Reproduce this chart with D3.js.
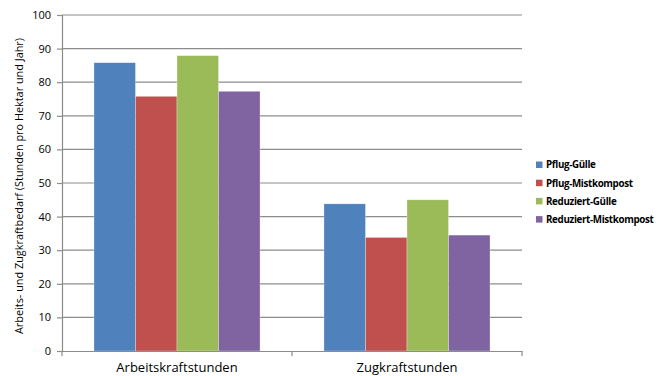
<!DOCTYPE html>
<html>
<head>
<meta charset="utf-8">
<script src="https://cdn.jsdelivr.net/npm/d3@7/dist/d3.min.js"></script>
<style>
  html, body { margin: 0; padding: 0; background: #fff; }
  svg { display: block; font-family: "Open Sans", "Noto Sans", sans-serif; }
</style>
</head>
<body>
<svg id="chart" width="666" height="376"></svg>
<script>
const categories = ["Arbeitskraftstunden", "Zugkraftstunden"];
const seriesNames = ["Pflug-Gülle", "Pflug-Mistkompost", "Reduziert-Gülle", "Reduziert-Mistkompost"];
const seriesColors = ["#4F81BD", "#C0504D", "#9BBB59", "#8064A2"];
const pflugGuelle = [85.8, 43.8];
const pflugMistkompost = [75.8, 33.8];
const reduziertGuelle = [87.9, 45.0];
const reduziertMistkompost = [77.3, 34.5];
const yTicks = [0, 10, 20, 30, 40, 50, 60, 70, 80, 90, 100];
const yLabel = "Arbeits- und Zugkraftbedarf (Stunden pro Hektar  und Jahr)";

const seriesValues = [pflugGuelle, pflugMistkompost, reduziertGuelle, reduziertMistkompost];

const svg = d3.select("#chart");
const plot = { left: 62, right: 522, top: 15, bottom: 351 };

const x = d3.scaleBand().domain(categories).range([plot.left, plot.right]).paddingInner(0).paddingOuter(0);
const inner = d3.scaleBand().domain(seriesNames).range([0, x.bandwidth()]).paddingOuter(0.77).paddingInner(0);
const y = d3.scaleLinear().domain([0, 100]).range([plot.bottom, plot.top]);

// horizontal gridlines
svg.append("g").selectAll("line").data(yTicks.filter(d => d > 0)).join("line")
  .attr("x1", plot.left).attr("x2", plot.right)
  .attr("y1", d => y(d)).attr("y2", d => y(d))
  .attr("stroke", "#8c8c8c").attr("stroke-width", 1.2);

// bars
const groups = svg.append("g").selectAll("g").data(seriesNames).join("g")
  .attr("fill", (d, i) => seriesColors[i]);
groups.selectAll("rect").data((s, i) => categories.map((c, j) => ({ c, s, v: seriesValues[i][j] })))
  .join("rect")
  .attr("x", d => x(d.c) + inner(d.s))
  .attr("width", inner.bandwidth())
  .attr("y", d => y(d.v))
  .attr("height", d => y(0) - y(d.v))
  .attr("stroke", "rgba(255,255,255,0.5)").attr("stroke-width", 0.6);

// y axis
const yAxis = svg.append("g").attr("transform", `translate(${plot.left},0)`)
  .call(d3.axisLeft(y).tickValues(yTicks).tickSize(5).tickPadding(6));
yAxis.select(".domain").attr("stroke", "#8c8c8c").attr("stroke-width", 1.2);
yAxis.selectAll(".tick line").attr("stroke", "#8c8c8c").attr("stroke-width", 1.2);
yAxis.selectAll(".tick text").attr("font-size", 11).attr("fill", "#000")
  .attr("font-family", "'Open Sans', sans-serif");

// x axis
const xAxis = svg.append("g").attr("transform", `translate(0,${plot.bottom})`)
  .call(d3.axisBottom(x).tickSize(0).tickPadding(12));
xAxis.select(".domain").attr("stroke", "#8c8c8c").attr("stroke-width", 1.2);
xAxis.selectAll(".tick text").attr("font-size", 13).attr("fill", "#000")
  .attr("font-family", "'Open Sans', sans-serif");
// category boundary ticks
const bounds = [plot.left, x(categories[1]), plot.right];
svg.append("g").selectAll("line").data(bounds).join("line")
  .attr("x1", d => d).attr("x2", d => d)
  .attr("y1", plot.bottom).attr("y2", plot.bottom + 5)
  .attr("stroke", "#8c8c8c").attr("stroke-width", 1.2);

// y axis title
svg.append("text")
  .attr("transform", `translate(23,${(plot.top + plot.bottom) / 2 + 3}) rotate(-90)`)
  .attr("text-anchor", "middle")
  .attr("font-size", 10)
  .attr("textLength", 296).attr("lengthAdjust", "spacingAndGlyphs")
  .text(yLabel);

// legend
const legend = svg.append("g").attr("transform", "translate(536,165)");
const items = legend.selectAll("g").data(seriesNames).join("g")
  .attr("transform", (d, i) => `translate(0,${i * 18.2})`);
items.append("rect").attr("x", 0).attr("y", -3.5).attr("width", 6.5).attr("height", 6.5)
  .attr("fill", (d, i) => seriesColors[i]);
items.append("text").attr("x", 10).attr("y", 0).attr("dy", "0.35em")
  .attr("font-size", 9.8).attr("font-weight", 700)
  .attr("font-family", "'Open Sans', sans-serif")
  .attr("letter-spacing", -0.35)
  .text(d => d);
</script>
</body>
</html>
